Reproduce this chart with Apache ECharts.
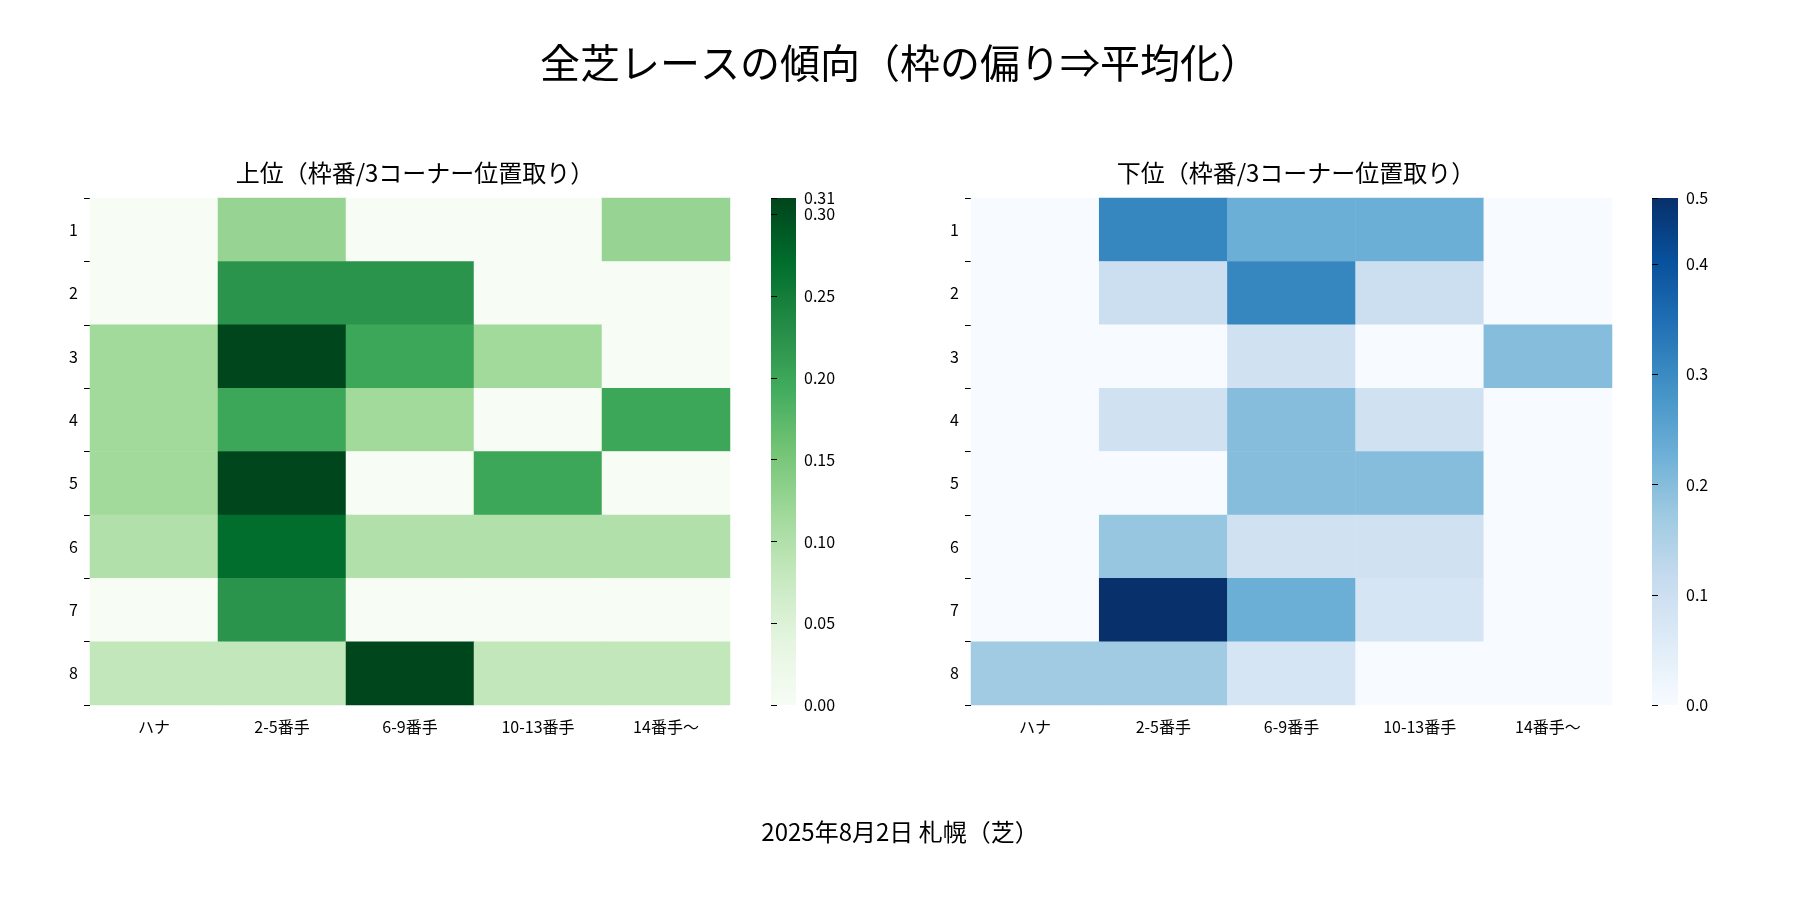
<!DOCTYPE html>
<html>
<head>
  <meta charset="utf-8" />
  <script src="https://cdn.jsdelivr.net/npm/echarts@6/dist/echarts.min.js"></script>
</head>
<body style="margin:0">
<div id="main" style="width:1800px;height:900px;"></div>
<script type="text/javascript">
  var cols = ['ハナ', '2-5番手', '6-9番手', '10-13番手', '14番手～'];
  var rows = ['1', '2', '3', '4', '5', '6', '7', '8'];
  var upper = [
    [0, 0.125, 0, 0, 0.125],
    [0, 0.222, 0.222, 0, 0],
    [0.115, 0.308, 0.2, 0.115, 0],
    [0.115, 0.2, 0.115, 0, 0.2],
    [0.115, 0.308, 0, 0.2, 0],
    [0.1, 0.27, 0.1, 0.1, 0.1],
    [0, 0.222, 0, 0, 0],
    [0.083, 0.083, 0.308, 0.083, 0.083]
  ];
  var lower = [
    [0, 0.308, 0.23, 0.23, 0],
    [0, 0.1, 0.308, 0.1, 0],
    [0, 0, 0.09, 0, 0.2],
    [0, 0.09, 0.2, 0.09, 0],
    [0, 0, 0.2, 0.2, 0],
    [0, 0.18, 0.09, 0.09, 0],
    [0, 0.46, 0.23, 0.08, 0],
    [0.17, 0.17, 0.08, 0, 0]
  ];
  var upperMax = 0.31, lowerMax = 0.46;
  var greens = ['#f7fcf5', '#e5f5e0', '#c7e9c0', '#a1d99b', '#74c476', '#41ab5d', '#238b45', '#006d2c', '#00441b'];
  var blues = ['#f7fbff', '#deebf7', '#c6dbef', '#9ecae1', '#6baed6', '#4292c6', '#2171b5', '#08519c', '#08306b'];

  function cells(m) {
    var out = [];
    m.forEach(function (r, i) { r.forEach(function (v, j) { out.push([j, i, v]); }); });
    return out;
  }
  function grad(c) {
    return new echarts.graphic.LinearGradient(0, 1, 0, 0, c.map(function (col, i) {
      return { offset: i / (c.length - 1), color: col };
    }));
  }
  var font = '"Noto Sans CJK JP", sans-serif';
  var lab = { color: '#000', fontSize: 16, fontFamily: font };
  function xAx(g) {
    return { type: 'category', data: cols, gridIndex: g, axisLine: { show: false },
      axisTick: { show: false }, axisLabel: Object.assign({ margin: 14 }, lab) };
  }
  function yAx(g) {
    return { type: 'category', data: rows, gridIndex: g, inverse: true, axisLine: { show: false },
      axisTick: { show: true, length: 6, lineStyle: { color: '#000' } }, axisLabel: Object.assign({ margin: 12 }, lab) };
  }
  function cbAx(g, max, step, dec) {
    return { type: 'value', gridIndex: g, min: 0, max: max, interval: step, position: 'right',
      axisLine: { show: false }, splitLine: { show: false },
      axisTick: { show: true, length: 6, lineStyle: { color: '#000' } },
      axisLabel: Object.assign({ formatter: function (v) { return v.toFixed(dec); } }, lab) };
  }
  var myChart = echarts.init(document.getElementById('main'));
  myChart.setOption({
    backgroundColor: '#fff',
    title: [
      { text: '全芝レースの傾向（枠の偏り⇒平均化）', left: 'center', top: 38, textStyle: { fontSize: 40, fontWeight: 'normal', fontFamily: font, color: '#000' } },
      { text: '上位（枠番/3コーナー位置取り）', left: 410, textAlign: 'center', top: 156, textStyle: { fontSize: 24, fontWeight: 'normal', fontFamily: font, color: '#000' } },
      { text: '下位（枠番/3コーナー位置取り）', left: 1291, textAlign: 'center', top: 156, textStyle: { fontSize: 24, fontWeight: 'normal', fontFamily: font, color: '#000' } },
      { text: '2025年8月2日 札幌（芝）', left: 'center', top: 815, textStyle: { fontSize: 24, fontWeight: 'normal', fontFamily: font, color: '#000' } }
    ],
    grid: [
      { left: 90, top: 198, width: 640, height: 507 },
      { left: 971, top: 198, width: 641, height: 507 },
      { left: 771, top: 198, width: 25, height: 507, show: true, borderWidth: 0, backgroundColor: grad(greens) },
      { left: 1652, top: 198, width: 26, height: 507, show: true, borderWidth: 0, backgroundColor: grad(blues) }
    ],
    xAxis: [xAx(0), xAx(1),
      { type: 'value', gridIndex: 2, show: false }, { type: 'value', gridIndex: 3, show: false }],
    yAxis: [yAx(0), yAx(1), cbAx(2, upperMax, 0.05, 2), cbAx(3, lowerMax, 0.1, 1)],
    visualMap: [
      { show: false, min: 0, max: upperMax, seriesIndex: 0, inRange: { color: greens } },
      { show: false, min: 0, max: lowerMax, seriesIndex: 1, inRange: { color: blues } }
    ],
    series: [
      { type: 'heatmap', xAxisIndex: 0, yAxisIndex: 0, data: cells(upper) },
      { type: 'heatmap', xAxisIndex: 1, yAxisIndex: 1, data: cells(lower) },
      { type: 'line', xAxisIndex: 2, yAxisIndex: 2, data: [] },
      { type: 'line', xAxisIndex: 3, yAxisIndex: 3, data: [] }
    ]
  });
</script>
</body>
</html>
